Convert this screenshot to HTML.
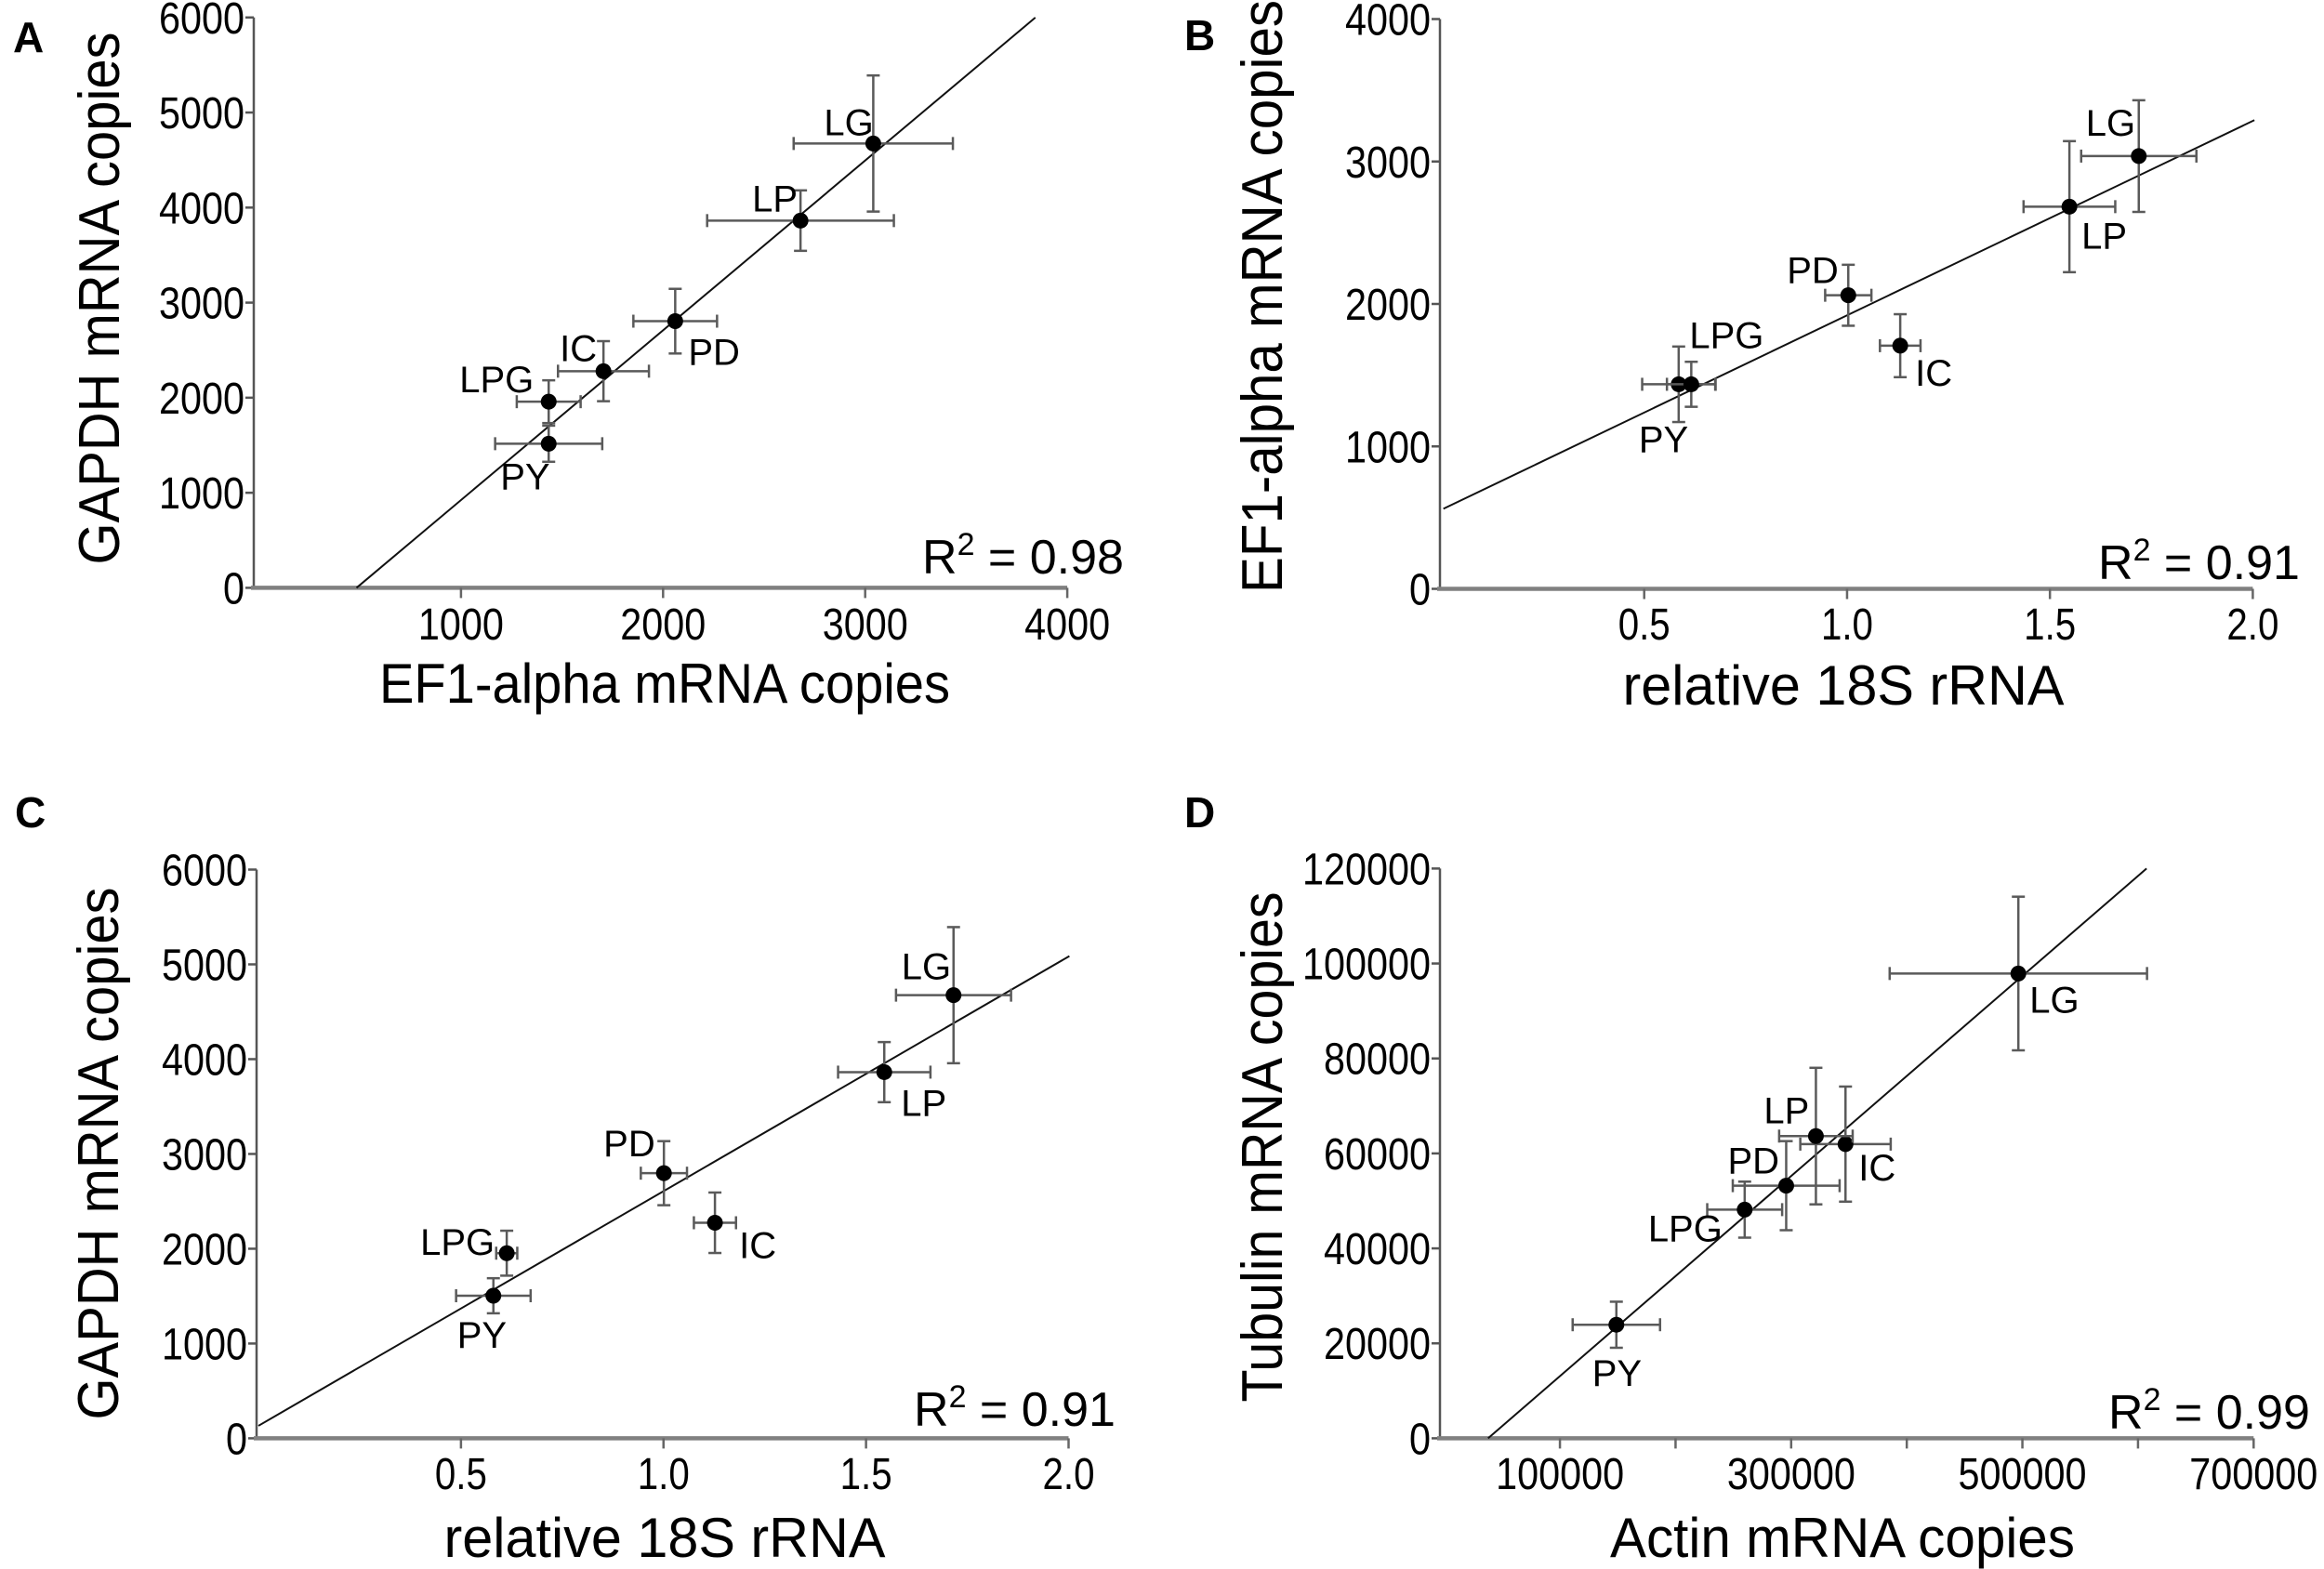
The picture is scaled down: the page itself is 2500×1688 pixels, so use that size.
<!DOCTYPE html>
<html><head><meta charset="utf-8"><style>
html,body{margin:0;padding:0;background:#fff}
svg{display:block}
text{font-family:"Liberation Sans",sans-serif;fill:#000}
</style></head><body>
<svg id="fig" xmlns="http://www.w3.org/2000/svg" width="2500" height="1688" viewBox="0 0 2500 1688"></svg>
<script>
// ---- data ----
const labels = ["PY","LPG","IC","PD","LP","LG"];
// Panel A: EF1-alpha (x) vs GAPDH (y)
const aX = [1434,1434,1705,2060,2680,3040];
const aY = [1516,1958,2279,2805,3863,4674];
const aXErr = [265,158,225,207,462,394];
const aYErr = [190,225,316,340,318,716];
const aXTicks = [1000,2000,3000,4000];
const aYTicks = [0,1000,2000,3000,4000,5000,6000];
const aFit = [1.786,-863,483,3842]; // slope, intercept, xStart, xEnd
// Panel B: relative 18S (x) vs EF1-alpha (y)
const bX = [0.585,0.616,1.131,1.003,1.548,1.719];
const bY = [1436,1436,1707,2061,2683,3038];
const bXErr = [0.09,0.06,0.05,0.057,0.113,0.142];
const bYErr = [265,158,221,214,460,392];
const bXTicks = [0.5,1.0,1.5,2.0];
const bXTickLabels = ["0.5","1.0","1.5","2.0"];
const bYTicks = [0,1000,2000,3000,4000];
const bFit = [1365,555,0.005,2.004];
// Panel C: relative 18S (x) vs GAPDH (y)
const cX = [0.580,0.613,1.127,1.001,1.545,1.716];
const cY = [1504,1953,2274,2797,3863,4675];
const cXErr = [0.092,0.026,0.052,0.057,0.114,0.142];
const cYErr = [185,237,319,338,317,718];
const cXTicks = [0.5,1.0,1.5,2.0];
const cXTickLabels = ["0.5","1.0","1.5","2.0"];
const cYTicks = [0,1000,2000,3000,4000,5000,6000];
const cFit = [2475,132,0,2.002];
// Panel D: Actin (x) vs Tubulin (y)
const dX = [148800,259800,347000,295700,321400,496500];
const dY = [23920,48160,61960,53210,63650,97890];
const dXErr = [37800,32400,39100,46200,31800,111300];
const dYErr = [4850,5900,12120,9380,14380,16180];
const dXTicks = [100000,200000,300000,400000,500000,600000,700000];
const dXTickLabels = ["100000","","300000","","500000","","700000"];
const dYTicks = [0,20000,40000,60000,80000,100000,120000];
const dFit = [0.2107,-7973,37840,607400];

const NS="http://www.w3.org/2000/svg";
const svg=document.getElementById('fig');
function mk(tag,attrs,parent){const e=document.createElementNS(NS,tag);for(const k in attrs)e.setAttribute(k,attrs[k]);(parent||svg).appendChild(e);return e;}
function tw(s){let w=0;for(const ch of s)w+=(ch==='.')?10:23;return w;}

function panel(cfg){
  const g=mk('g',{});
  
  
  const sx=v=>cfg.x0+v*cfg.kx, sy=v=>cfg.y0-v*cfg.ky;
  const L=mk('text',{x:cfg.letter[0],y:cfg.letter[1],'font-size':46,'font-weight':'bold'},g);
  L.textContent=cfg.id.toUpperCase();
  
  
  const yTop=sy(cfg.yTicks[cfg.yTicks.length-1]);
  const ya=mk('line',{x1:cfg.axX,y1:cfg.y0,x2:cfg.axX,y2:yTop,stroke:'#555','stroke-width':2.5},g);
  
  
  cfg.yTicks.forEach(v=>{
    mk('line',{x1:cfg.axX-9,x2:cfg.axX,y1:sy(v),y2:sy(v),stroke:'#555','stroke-width':2.5},g);
    const s=String(v);
    const t=mk('text',{x:cfg.axX-10,y:sy(v)+17,'text-anchor':'end','font-size':48,textLength:tw(s),lengthAdjust:'spacingAndGlyphs'},g);
    t.textContent=s;
    
    
  });
  const xEnd=sx(cfg.xTicks[cfg.xTicks.length-1]);
  const xa=mk('line',{x1:cfg.axX-3,y1:cfg.y0,x2:xEnd,y2:cfg.y0,stroke:'#808080','stroke-width':4.5},g);
  
  
  cfg.xTicks.forEach((v,i)=>{
    mk('line',{x1:sx(v),x2:sx(v),y1:cfg.y0,y2:cfg.y0+11,stroke:'#666','stroke-width':2.5},g);
    const lab=cfg.xTickLabels?cfg.xTickLabels[i]:String(v);
    if(lab){
      const t=mk('text',{x:sx(v),y:cfg.xLabY,'text-anchor':'middle','font-size':48,textLength:tw(lab),lengthAdjust:'spacingAndGlyphs'},g);
      t.textContent=lab;
      
      
    }
  });
  const xt=mk('text',{x:cfg.xTitle[0],y:cfg.xTitle[1],'text-anchor':'middle','font-size':60,textLength:cfg.xTitle[2],lengthAdjust:'spacingAndGlyphs'},g);
  xt.textContent=cfg.xTitleText;
  
  
  const yt=mk('text',{x:0,y:0,'text-anchor':'middle','font-size':62,textLength:cfg.yTitle[2],lengthAdjust:'spacingAndGlyphs',transform:`translate(${cfg.yTitle[0]},${cfg.yTitle[1]}) rotate(-90)`},g);
  yt.textContent=cfg.yTitleText;
  
  
  const f=cfg.fit;
  const fl=mk('line',{x1:sx(f[2]),y1:sy(f[0]*f[2]+f[1]),x2:sx(f[3]),y2:sy(f[0]*f[3]+f[1]),stroke:'#111','stroke-width':2},g);
  
  
  cfg.xs.forEach((xv,i)=>{
    const px=sx(xv), py=sy(cfg.ys[i]);
    const eg=mk('g',{stroke:'#5a5a5a','stroke-width':2.5},g);
    
    
    const xl=sx(xv-cfg.xe[i]), xr=sx(xv+cfg.xe[i]);
    const yt2=sy(cfg.ys[i]+cfg.ye[i]), yb=sy(cfg.ys[i]-cfg.ye[i]);
    mk('line',{x1:xl,x2:xr,y1:py,y2:py},eg);
    mk('line',{x1:xl,x2:xl,y1:py-7,y2:py+7},eg);
    mk('line',{x1:xr,x2:xr,y1:py-7,y2:py+7},eg);
    mk('line',{x1:px,x2:px,y1:yt2,y2:yb},eg);
    mk('line',{x1:px-7,x2:px+7,y1:yt2,y2:yt2},eg);
    mk('line',{x1:px-7,x2:px+7,y1:yb,y2:yb},eg);
    const c=mk('circle',{cx:px,cy:py,r:8.5,fill:'#000'},g);
    
    
    const o=cfg.off[i];
    const t=mk('text',{x:px+o[0],y:py+o[1]+2,'font-size':40},g);
    t.textContent=labels[i];
    
    
  });
  const r=mk('text',{x:cfg.r2[0]-8,y:cfg.r2[1]+4,'font-size':52},g);
  
  
  r.innerHTML='R<tspan dy="-20" font-size="34">2</tspan><tspan dy="20"> = '+cfg.r2[2]+'</tspan>';
}

panel({id:'a',x0:278.5,kx:0.2174,y0:632.4,ky:0.10227,axX:273,letter:[14,56],
  xs:aX,ys:aY,xe:aXErr,ye:aYErr,xTicks:aXTicks,yTicks:aYTicks,fit:aFit,xLabY:688,
  xTitle:[715,756,614],xTitleText:'EF1-alpha mRNA copies',yTitle:[128,321,573],yTitleText:'GAPDH mRNA copies',
  r2:[1000,613,'0.98'],
  off:[[-52,47],[-96,-12],[-47,-13],[14,45],[-52,-12],[-53,-11]]});
panel({id:'b',x0:1550.5,kx:436.45,y0:633.5,ky:0.15325,axX:1549,letter:[1274,54],
  xs:bX,ys:bY,xe:bXErr,ye:bYErr,xTicks:bXTicks,xTickLabels:bXTickLabels,yTicks:bYTicks,fit:bFit,xLabY:688,
  xTitle:[1983,758,475],xTitleText:'relative 18S rRNA',yTitle:[1379,319,638],yTitleText:'EF1-alpha mRNA copies',
  r2:[2265,619,'0.91'],
  off:[[-43,71],[-2,-41],[16,41],[-66,-15],[13,43],[-57,-24]]});
panel({id:'c',x0:278,kx:435.75,y0:1547.4,ky:0.10198,axX:276,letter:[16,890],
  xs:cX,ys:cY,xe:cXErr,ye:cYErr,xTicks:cXTicks,xTickLabels:cXTickLabels,yTicks:cYTicks,fit:cFit,xLabY:1602,
  xTitle:[715,1675,475],xTitleText:'relative 18S rRNA',yTitle:[127,1241,573],yTitleText:'GAPDH mRNA copies',
  r2:[991,1530,'0.91'],
  off:[[-39,54],[-93,0],[26,36],[-65,-20],[18,45],[-56,-19]]});
panel({id:'d',x0:1553.7,kx:870.6/700000,y0:1547.4,ky:613/120000,axX:1549,letter:[1274,890],
  xs:dX,ys:dY,xe:dXErr,ye:dYErr,xTicks:dXTicks,xTickLabels:dXTickLabels,yTicks:dYTicks,fit:dFit,xLabY:1602,
  xTitle:[1982,1675,500],xTitleText:'Actin mRNA copies',yTitle:[1379,1234,549],yTitleText:'Tubulin mRNA copies',
  r2:[2276,1533,'0.99'],
  off:[[-26,64],[-104,32],[14,37],[-63,-15],[-56,-16],[12,40]]});
</script>
</body></html>
